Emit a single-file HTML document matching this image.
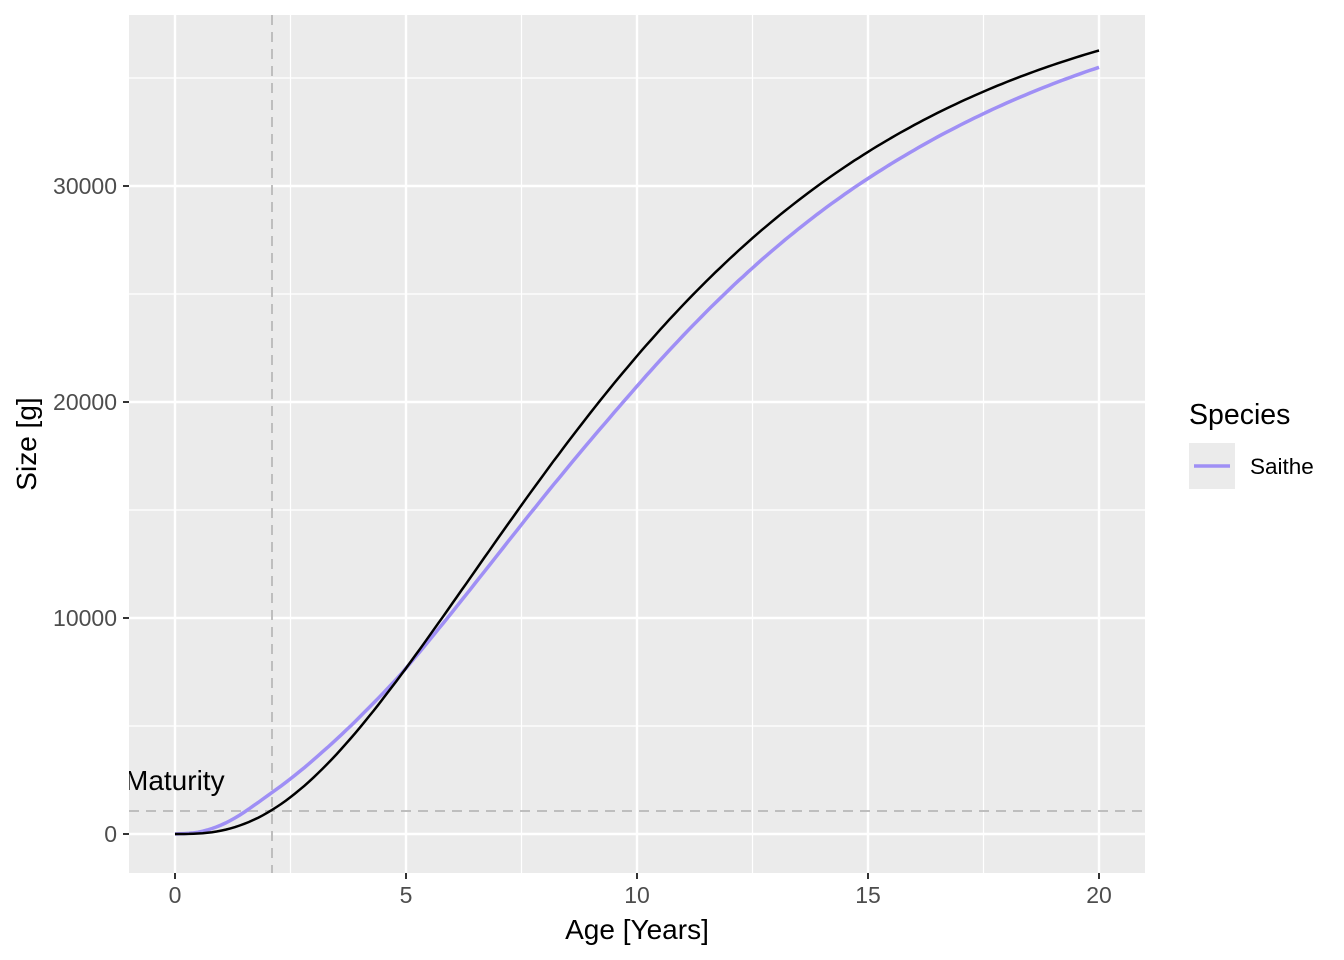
<!DOCTYPE html>
<html><head><style>body{margin:0;background:#fff}svg{display:block;font-family:"Liberation Sans",Arial,sans-serif}</style></head>
<body>
<svg id="s" width="1344" height="960" viewBox="0 0 1344 960">
<rect width="1344" height="960" fill="#fff"/>
<defs><clipPath id="c"><rect x="129" y="15" width="1016" height="858"/></clipPath></defs>
<rect x="129" y="15" width="1016" height="858" fill="#ebebeb"/>
<g stroke="#fff" stroke-width="1.2">
<line x1="290.5" x2="290.5" y1="15" y2="873"/><line x1="521.5" x2="521.5" y1="15" y2="873"/><line x1="752.5" x2="752.5" y1="15" y2="873"/><line x1="983.5" x2="983.5" y1="15" y2="873"/>
<line x1="129" x2="1145" y1="726" y2="726"/><line x1="129" x2="1145" y1="510" y2="510"/><line x1="129" x2="1145" y1="294" y2="294"/><line x1="129" x2="1145" y1="78" y2="78"/>
</g>
<g stroke="#fff" stroke-width="2.4">
<line x1="175" x2="175" y1="15" y2="873"/><line x1="406" x2="406" y1="15" y2="873"/><line x1="637" x2="637" y1="15" y2="873"/><line x1="868" x2="868" y1="15" y2="873"/><line x1="1099" x2="1099" y1="15" y2="873"/>
<line x1="129" x2="1145" y1="834" y2="834"/><line x1="129" x2="1145" y1="618" y2="618"/><line x1="129" x2="1145" y1="402" y2="402"/><line x1="129" x2="1145" y1="186" y2="186"/>
</g>
<g stroke="#bebebe" stroke-width="2" stroke-dasharray="10,7">
<line x1="272" x2="272" y1="15" y2="873"/><line x1="129" x2="1145" y1="811" y2="811"/>
</g>
<g clip-path="url(#c)"><text x="125" y="790" font-size="28" fill="#000">Maturity</text></g>
<path id="pp" fill="none" stroke="#9f8ff5" stroke-width="3.5"/>
<path id="bp" fill="none" stroke="#000" stroke-width="2.5"/>
<g stroke="#333" stroke-width="2">
<line x1="175" x2="175" y1="873" y2="879"/><line x1="406" x2="406" y1="873" y2="879"/><line x1="637" x2="637" y1="873" y2="879"/><line x1="868" x2="868" y1="873" y2="879"/><line x1="1099" x2="1099" y1="873" y2="879"/>
<line x1="123" x2="129" y1="834" y2="834"/><line x1="123" x2="129" y1="618" y2="618"/><line x1="123" x2="129" y1="402" y2="402"/><line x1="123" x2="129" y1="186" y2="186"/>
</g>
<g font-size="23" fill="#4d4d4d">
<g text-anchor="middle"><text x="175" y="903">0</text><text x="406" y="903">5</text><text x="637" y="903">10</text><text x="868" y="903">15</text><text x="1099" y="903">20</text></g>
<g text-anchor="end"><text x="117" y="842">0</text><text x="117" y="626">10000</text><text x="117" y="410">20000</text><text x="117" y="194">30000</text></g>
</g>
<text x="637" y="939" font-size="28" text-anchor="middle">Age [Years]</text>
<text transform="translate(36,444) rotate(-90)" font-size="28" text-anchor="middle">Size [g]</text>
<text x="1189" y="424" font-size="28.5">Species</text>
<rect x="1189" y="443" width="46" height="46" fill="#ebebeb"/>
<line x1="1194" x2="1230" y1="466" y2="466" stroke="#9f8ff5" stroke-width="3.5"/>
<text x="1250" y="474" font-size="22.5">Saithe</text>
</svg>
<script>
function B(t){var v=1-Math.exp(-0.172*t);return 40000*v*v*v;}
var D=[[0,0],[0.5,60],[1,260],[2,780],[3,820],[4,500],[5,0],[7.5,-900],[10,-1400],[15,-1230],[20,-780]];
function diff(t){for(var i=0;i<D.length-1;i++){if(t<=D[i+1][0]){var p0=D[Math.max(i-1,0)],p1=D[i],p2=D[i+1],p3=D[Math.min(i+2,D.length-1)];var u=(t-p1[0])/(p2[0]-p1[0]);
var m1=(p2[1]-p0[1])/(p2[0]-p0[0]||1)*(p2[0]-p1[0]),m2=(p3[1]-p1[1])/(p3[0]-p1[0]||1)*(p2[0]-p1[0]);
var h00=2*u*u*u-3*u*u+1,h10=u*u*u-2*u*u+u,h01=-2*u*u*u+3*u*u,h11=u*u*u-u*u;return h00*p1[1]+h10*m1+h01*p2[1]+h11*m2;}}return D[D.length-1][1];}
function X(t){return 175+46.2*t}function Y(w){return 834-0.0216*w}
var b="",p="";for(var i=0;i<=200;i++){var t=i/10;var w=B(t);var q=Math.max(0,w+diff(t));
b+=(i?"L":"M")+X(t).toFixed(1)+","+Y(w).toFixed(1);p+=(i?"L":"M")+X(t).toFixed(1)+","+Y(q).toFixed(1);}
document.getElementById("bp").setAttribute("d",b);document.getElementById("pp").setAttribute("d",p);
</script>
</body></html>
